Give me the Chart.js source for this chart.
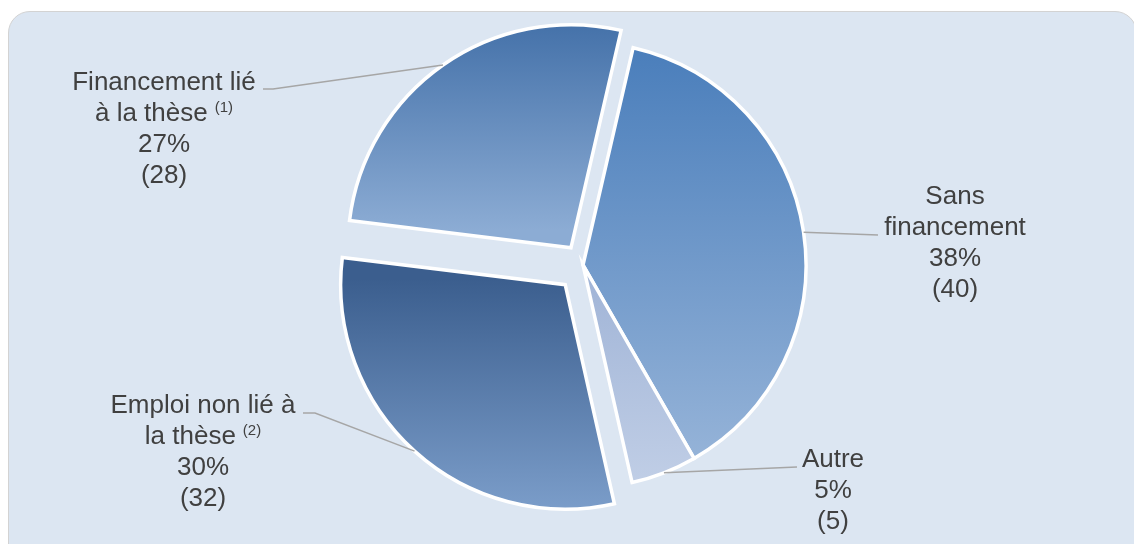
<!DOCTYPE html>
<html>
<head>
<meta charset="utf-8">
<script src="https://cdn.jsdelivr.net/npm/chart.js@4.4.0/dist/chart.umd.min.js"></script>
<style>
    html, body { margin: 0; padding: 0; background: #fff; overflow: hidden; }
    #panel {
        position: absolute; left: 8px; top: 11px; width: 1127px; height: 560px;
        background: #dce6f2; border: 1px solid #d3d3d3; border-radius: 22px;
    }
    #wrap { position: absolute; left: 0; top: 0; width: 1134px; height: 544px; }
</style>
</head>
<body>
<div id="panel"></div>
<div id="wrap"><canvas id="pieChart"></canvas></div>
<script>
const categories = ['Sans financement', 'Autre', 'Emploi non lié à la thèse', 'Financement lié à la thèse'];
const labelLines = [['Sans', 'financement'], ['Autre'], ['Emploi non lié à', 'la thèse'], ['Financement lié', 'à la thèse']];
const notes = ['', '', '(2)', '(1)'];
const counts = [40, 5, 32, 28];

// exploded slices (Chart.js offset units)
const sliceOffsets = [0, 0, 106, 84];

const topColors = ['#4a7ebb', '#9fb3d6', '#3b5e8e', '#3f6da6'];
const bottomColors = ['#95b3d8', '#c0cee6', '#80a2ce', '#8cacd4'];

// label placement: text centre, first baseline, leader end (and elbow)
const labelPos = [
    { x: 955, y: 204, end: [878, 235] },
    { x: 833, y: 467, end: [797, 467] },
    { x: 203, y: 413, elbow: [315, 413], end: [303, 413] },
    { x: 164, y: 90, elbow: [273, 89], end: [263, 89] }
];

const ROTATION = 13;
const RADIUS = 223;
const total = counts.reduce((a, b) => a + b, 0);

function sliceAngles(i) {
    let before = 0;
    for (let k = 0; k < i; k++) before += counts[k];
    const start = ROTATION * Math.PI / 180 - Math.PI / 2 + before / total * Math.PI * 2;
    const end = start + counts[i] / total * Math.PI * 2;
    return [start, end];
}

function shiftOf(i, start, end) {
    const circ = end - start;
    const off = sliceOffsets[i] / 4;
    const fix = 1 - Math.sin(Math.min(Math.PI, circ));
    return off + off * fix;
}

function sliceGradient(ctx) {
    const i = ctx.dataIndex;
    if (i === undefined || !ctx.chart.chartArea) return topColors[0];
    const area = ctx.chart.chartArea;
    const cx = (area.left + area.right) / 2;
    const cy = (area.top + area.bottom) / 2;
    const [a0, a1] = sliceAngles(i);
    const mid = (a0 + a1) / 2;
    const s = shiftOf(i, a0, a1);
    const ox = cx + Math.cos(mid) * s;
    const oy = cy + Math.sin(mid) * s;
    let ymin = oy, ymax = oy;
    for (let k = 0; k <= 60; k++) {
        const a = a0 + (a1 - a0) * k / 60;
        const y = oy + Math.sin(a) * RADIUS;
        ymin = Math.min(ymin, y);
        ymax = Math.max(ymax, y);
    }
    const g = ctx.chart.ctx.createLinearGradient(0, ymin, 0, ymax);
    g.addColorStop(0, topColors[i]);
    g.addColorStop(1, bottomColors[i]);
    return g;
}

const labelPlugin = {
    id: 'sliceLabels',
    afterDatasetsDraw(chart) {
        const ctx = chart.ctx;
        const meta = chart.getDatasetMeta(0);
        ctx.save();
        meta.data.forEach((arc, i) => {
            const mid = (arc.startAngle + arc.endAngle) / 2;
            const s = shiftOf(i, arc.startAngle, arc.endAngle);
            const px = arc.x + Math.cos(mid) * (s + arc.outerRadius);
            const py = arc.y + Math.sin(mid) * (s + arc.outerRadius);
            const pos = labelPos[i];

            ctx.strokeStyle = '#a6a6a6';
            ctx.lineWidth = 1.5;
            ctx.beginPath();
            ctx.moveTo(px, py);
            if (pos.elbow) ctx.lineTo(pos.elbow[0], pos.elbow[1]);
            ctx.lineTo(pos.end[0], pos.end[1]);
            ctx.stroke();

            const lines = labelLines[i].slice();
            lines.push(Math.round(counts[i] / total * 100) + '%');
            lines.push('(' + counts[i] + ')');
            const noteLine = labelLines[i].length - 1;

            ctx.fillStyle = '#404040';
            ctx.textBaseline = 'alphabetic';
            lines.forEach((txt, k) => {
                const y = pos.y + k * 31;
                ctx.font = '26px "Liberation Sans", Arial, sans-serif';
                const w = ctx.measureText(txt).width;
                if (k === noteLine && notes[i]) {
                    ctx.font = '15px "Liberation Sans", Arial, sans-serif';
                    const nw = ctx.measureText(notes[i]).width;
                    const sp = 7;
                    const left = pos.x - (w + sp + nw) / 2;
                    ctx.textAlign = 'left';
                    ctx.fillText(notes[i], left + w + sp, y - 9);
                    ctx.font = '26px "Liberation Sans", Arial, sans-serif';
                    ctx.fillText(txt, left, y);
                } else {
                    ctx.textAlign = 'center';
                    ctx.fillText(txt, pos.x, y);
                }
            });
        });
        ctx.restore();
    }
};

const chart = new Chart(document.getElementById('pieChart'), {
    type: 'pie',
    data: {
        labels: categories,
        datasets: [{
            data: counts,
            backgroundColor: sliceGradient,
            borderColor: '#ffffff',
            borderWidth: 3.5,
            borderJoinStyle: 'miter',
            offset: sliceOffsets
        }]
    },
    options: {
        responsive: true,
        maintainAspectRatio: false,
        animation: false,
        events: [],
        rotation: ROTATION,
        radius: RADIUS,
        layout: { padding: { left: 32, right: 0, top: 0, bottom: 14 } },
        plugins: {
            legend: { display: false },
            tooltip: { enabled: false }
        }
    },
    plugins: [labelPlugin]
});
</script>
</body>
</html>
